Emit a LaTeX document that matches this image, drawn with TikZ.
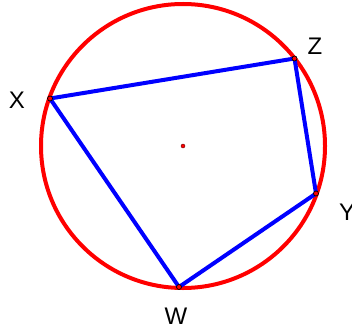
\documentclass[tikz,border=0pt]{standalone}
\usepackage{fontspec}
\setsansfont{Liberation Sans}
\usetikzlibrary{calc}
\tikzset{
    circle figure/.style = {x=1pt, y=-1pt, font=\sffamily\fontsize{24}{28}\selectfont},
    rim/.style           = {draw=red, line width=4pt},
    side/.style          = {draw=blue, line width=4pt, line join=round},
    vertex/.style        = {circle, draw=black, fill=red, inner sep=0pt,
                            minimum size=5pt, line width=0.7pt},
    centre dot/.style    = {circle, draw=black!60!red, fill=red, inner sep=0pt,
                            minimum size=4pt, line width=0.4pt},
    tag/.style           = {inner sep=0pt}
}
\def\radius{142}

\begin{document}
\begin{tikzpicture}[circle figure]
\useasboundingbox (0,0) rectangle (352,331);
% circumcircle and its centre
\coordinate (origin) at (183,146);
\draw[rim] (origin) circle[radius=\radius];
\node[centre dot] (o) at (origin) {};

% quadrilateral inscribed in the circle
\coordinate (x) at (50,98.5);
\coordinate (z) at (294.5,58.5);
\coordinate (y) at (316,193.5);
\coordinate (w) at (179,287);
\draw[side] (x) -- (z) -- (y) -- (w) -- cycle;
\foreach \v in {x,z,y,w}
  \node[vertex] at (\v) {};

% vertex labels
\node[tag] (xlabel) at (17,100) {X};
\node[tag] (zlabel) at (315,46) {Z};
\node[tag] (ylabel) at (347,212) {Y};
\node[tag] (wlabel) at (176,316) {W};
\end{tikzpicture}
\end{document}
